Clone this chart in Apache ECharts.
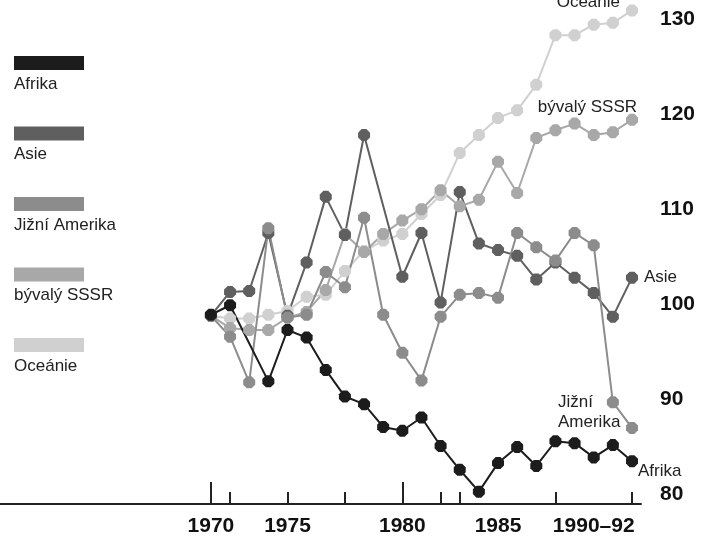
<!DOCTYPE html>
<html>
<head>
<meta charset="utf-8">
<script src="https://cdn.jsdelivr.net/npm/echarts@6/dist/echarts.min.js"></script>
<style>html,body{margin:0;padding:0;background:#fff}#c{width:707px;height:537px}</style>
</head>
<body>
<div id="c"></div>
<script>
const years = [1970,1971,1972,1973,1974,1975,1976,1977,1978,1979,1980,1981,1982,1983,1984,1985,1986,1987,1988,1989,1990,1991,1992];
const afrika  = [98.9, 99.9, null, 91.9, 97.3, 96.5, 93.1, 90.3, 89.5, 87.1, 86.7, 88.1, 85.1, 82.6, 80.3, 83.3, 85.0, 83.0, 85.6, 85.4, 83.9, 85.2, 83.5];
const asie    = [98.8, 101.3, 101.4, 107.5, 98.8, 104.4, 111.3, 107.3, 117.8, null, 102.9, 107.5, 100.2, 111.8, 106.4, 105.7, 105.1, 102.6, 104.4, 102.8, 101.2, 98.7, 102.8];
const jizni   = [98.8, 96.6, 91.8, 108.0, 98.6, 98.9, 103.4, 101.8, 109.1, 98.9, 94.9, 92.0, 98.7, 101.0, 101.2, 100.7, 107.5, 106.0, 104.6, 107.5, 106.2, 89.7, 87.0];
const sssr    = [98.8, 97.5, 97.3, 97.3, 98.6, 99.2, 101.5, 107.4, 105.5, 107.4, 108.8, 110.0, 112.0, 110.3, 111.0, 115.0, 111.7, 117.5, 118.3, 119.0, 117.8, 118.1, 119.4];
const oceanie = [98.8, 98.5, 98.5, 98.9, 99.3, 100.8, 101.0, 103.5, 105.6, 106.7, 107.4, 109.5, 111.5, 115.9, 117.8, 119.6, 120.4, 123.1, 128.3, 128.3, 129.4, 129.6, 130.9];

const seriesNames = ['Afrika', 'Asie', 'Jižní Amerika', 'bývalý SSSR', 'Oceánie'];
const endNames = ['Afrika', 'Asie', 'Jižní\nAmerika', 'bývalý SSSR', 'Oceánie'];
const seriesValues = [afrika, asie, jizni, sssr, oceanie];
const colors = ['#1c1c1c', '#5f5f5f', '#8c8c8c', '#a8a8a8', '#d0d0d0'];

const yTickValues = [80, 90, 100, 110, 120, 130];
const xTickYears = [1970, 1971, 1974, 1977, 1980, 1982, 1983, 1988, 1992];
const xMajorTickYears = [1970, 1980];
const xLabelYears = [1970, 1974, 1980, 1985, 1990];
const xLabelTexts = ['1970', '1975', '1980', '1985', '1990–92'];

const endLabelStyles = [
  {align: 'left', verticalAlign: 'middle', offset: [6, 10]},
  {align: 'left', verticalAlign: 'middle', offset: [12, 0]},
  {align: 'left', verticalAlign: 'middle', offset: [-74, -16], lineHeight: 20},
  {align: 'right', verticalAlign: 'middle', offset: [5, -13]},
  {align: 'right', verticalAlign: 'middle', offset: [-12, -8]}
];

const octagon = 'path://M3,0 L7,0 L10,3 L10,7 L7,10 L3,10 L0,7 L0,3 Z';
const drawOrder = [4, 3, 1, 2, 0];
const txtFont = 'Liberation Sans, Arial, sans-serif';
const numFont = 'Liberation Sans Narrow, Liberation Sans, Arial, sans-serif';

const series = drawOrder.map(function (si) {
  const vals = seriesValues[si];
  const data = [];
  let lastIdx = -1;
  years.forEach(function (y, i) { if (vals[i] !== null) lastIdx = i; });
  years.forEach(function (y, i) {
    if (vals[i] === null) return;
    if (i === lastIdx) {
      data.push({
        value: [y, vals[i]],
        label: Object.assign({
          show: true, position: 'inside', formatter: endNames[si],
          color: '#222', fontSize: 17, fontFamily: txtFont
        }, endLabelStyles[si])
      });
    } else {
      data.push([y, vals[i]]);
    }
  });
  return {
    name: seriesNames[si],
    type: 'line',
    data: data,
    symbol: octagon,
    symbolSize: 12,
    showAllSymbol: true,
    lineStyle: {color: colors[si], width: 2},
    itemStyle: {color: colors[si], borderWidth: 0},
    label: {show: false},
    emphasis: {disabled: true},
    animation: false,
    z: 2
  };
});

const rich = {t: {fontSize: 17, color: '#222', lineHeight: 28, fontFamily: txtFont}};
colors.forEach(function (c, i) { rich['b' + i] = {width: 70, height: 14, backgroundColor: c}; });

const chart = echarts.init(document.getElementById('c'), null, {renderer: 'canvas'});
chart.setOption({
  animation: false,
  backgroundColor: '#fff',
  grid: {left: 0, right: 66, top: 0, bottom: 33, containLabel: false},
  legend: {
    orient: 'vertical', left: 3, top: 51,
    itemWidth: 0, itemHeight: 0, itemGap: 34,
    selectedMode: false,
    data: seriesNames,
    itemStyle: {opacity: 0}, lineStyle: {opacity: 0},
    formatter: function (name) { return '{b' + seriesNames.indexOf(name) + '|}\n{t|' + name + '}'; },
    textStyle: {rich: rich}
  },
  xAxis: [{
    type: 'value', min: 1958.98, max: 1992.47,
    axisLine: {show: true, lineStyle: {color: '#222', width: 2}},
    axisTick: {show: true, inside: true, length: 12, customValues: xTickYears, lineStyle: {color: '#222', width: 2}},
    axisLabel: {
      show: true, customValues: xLabelYears, margin: 12,
      fontSize: 21, fontWeight: 'bold', color: '#111', fontFamily: numFont,
      formatter: function (v) { const k = xLabelYears.indexOf(v); return k >= 0 ? xLabelTexts[k] : ''; }
    },
    splitLine: {show: false}
  }, {
    type: 'value', min: 1958.98, max: 1992.47, position: 'bottom',
    axisLine: {show: false},
    axisTick: {show: true, inside: true, length: 22, customValues: xMajorTickYears, lineStyle: {color: '#222', width: 2}},
    axisLabel: {show: false},
    splitLine: {show: false}
  }],
  yAxis: {
    type: 'value', position: 'right', min: 79, max: 132,
    axisLine: {show: false}, axisTick: {show: false}, splitLine: {show: false},
    axisLabel: {
      show: true, customValues: yTickValues, margin: 19,
      fontSize: 21, fontWeight: 'bold', color: '#111', fontFamily: numFont
    }
  },
  series: series
});
</script>
</body>
</html>
